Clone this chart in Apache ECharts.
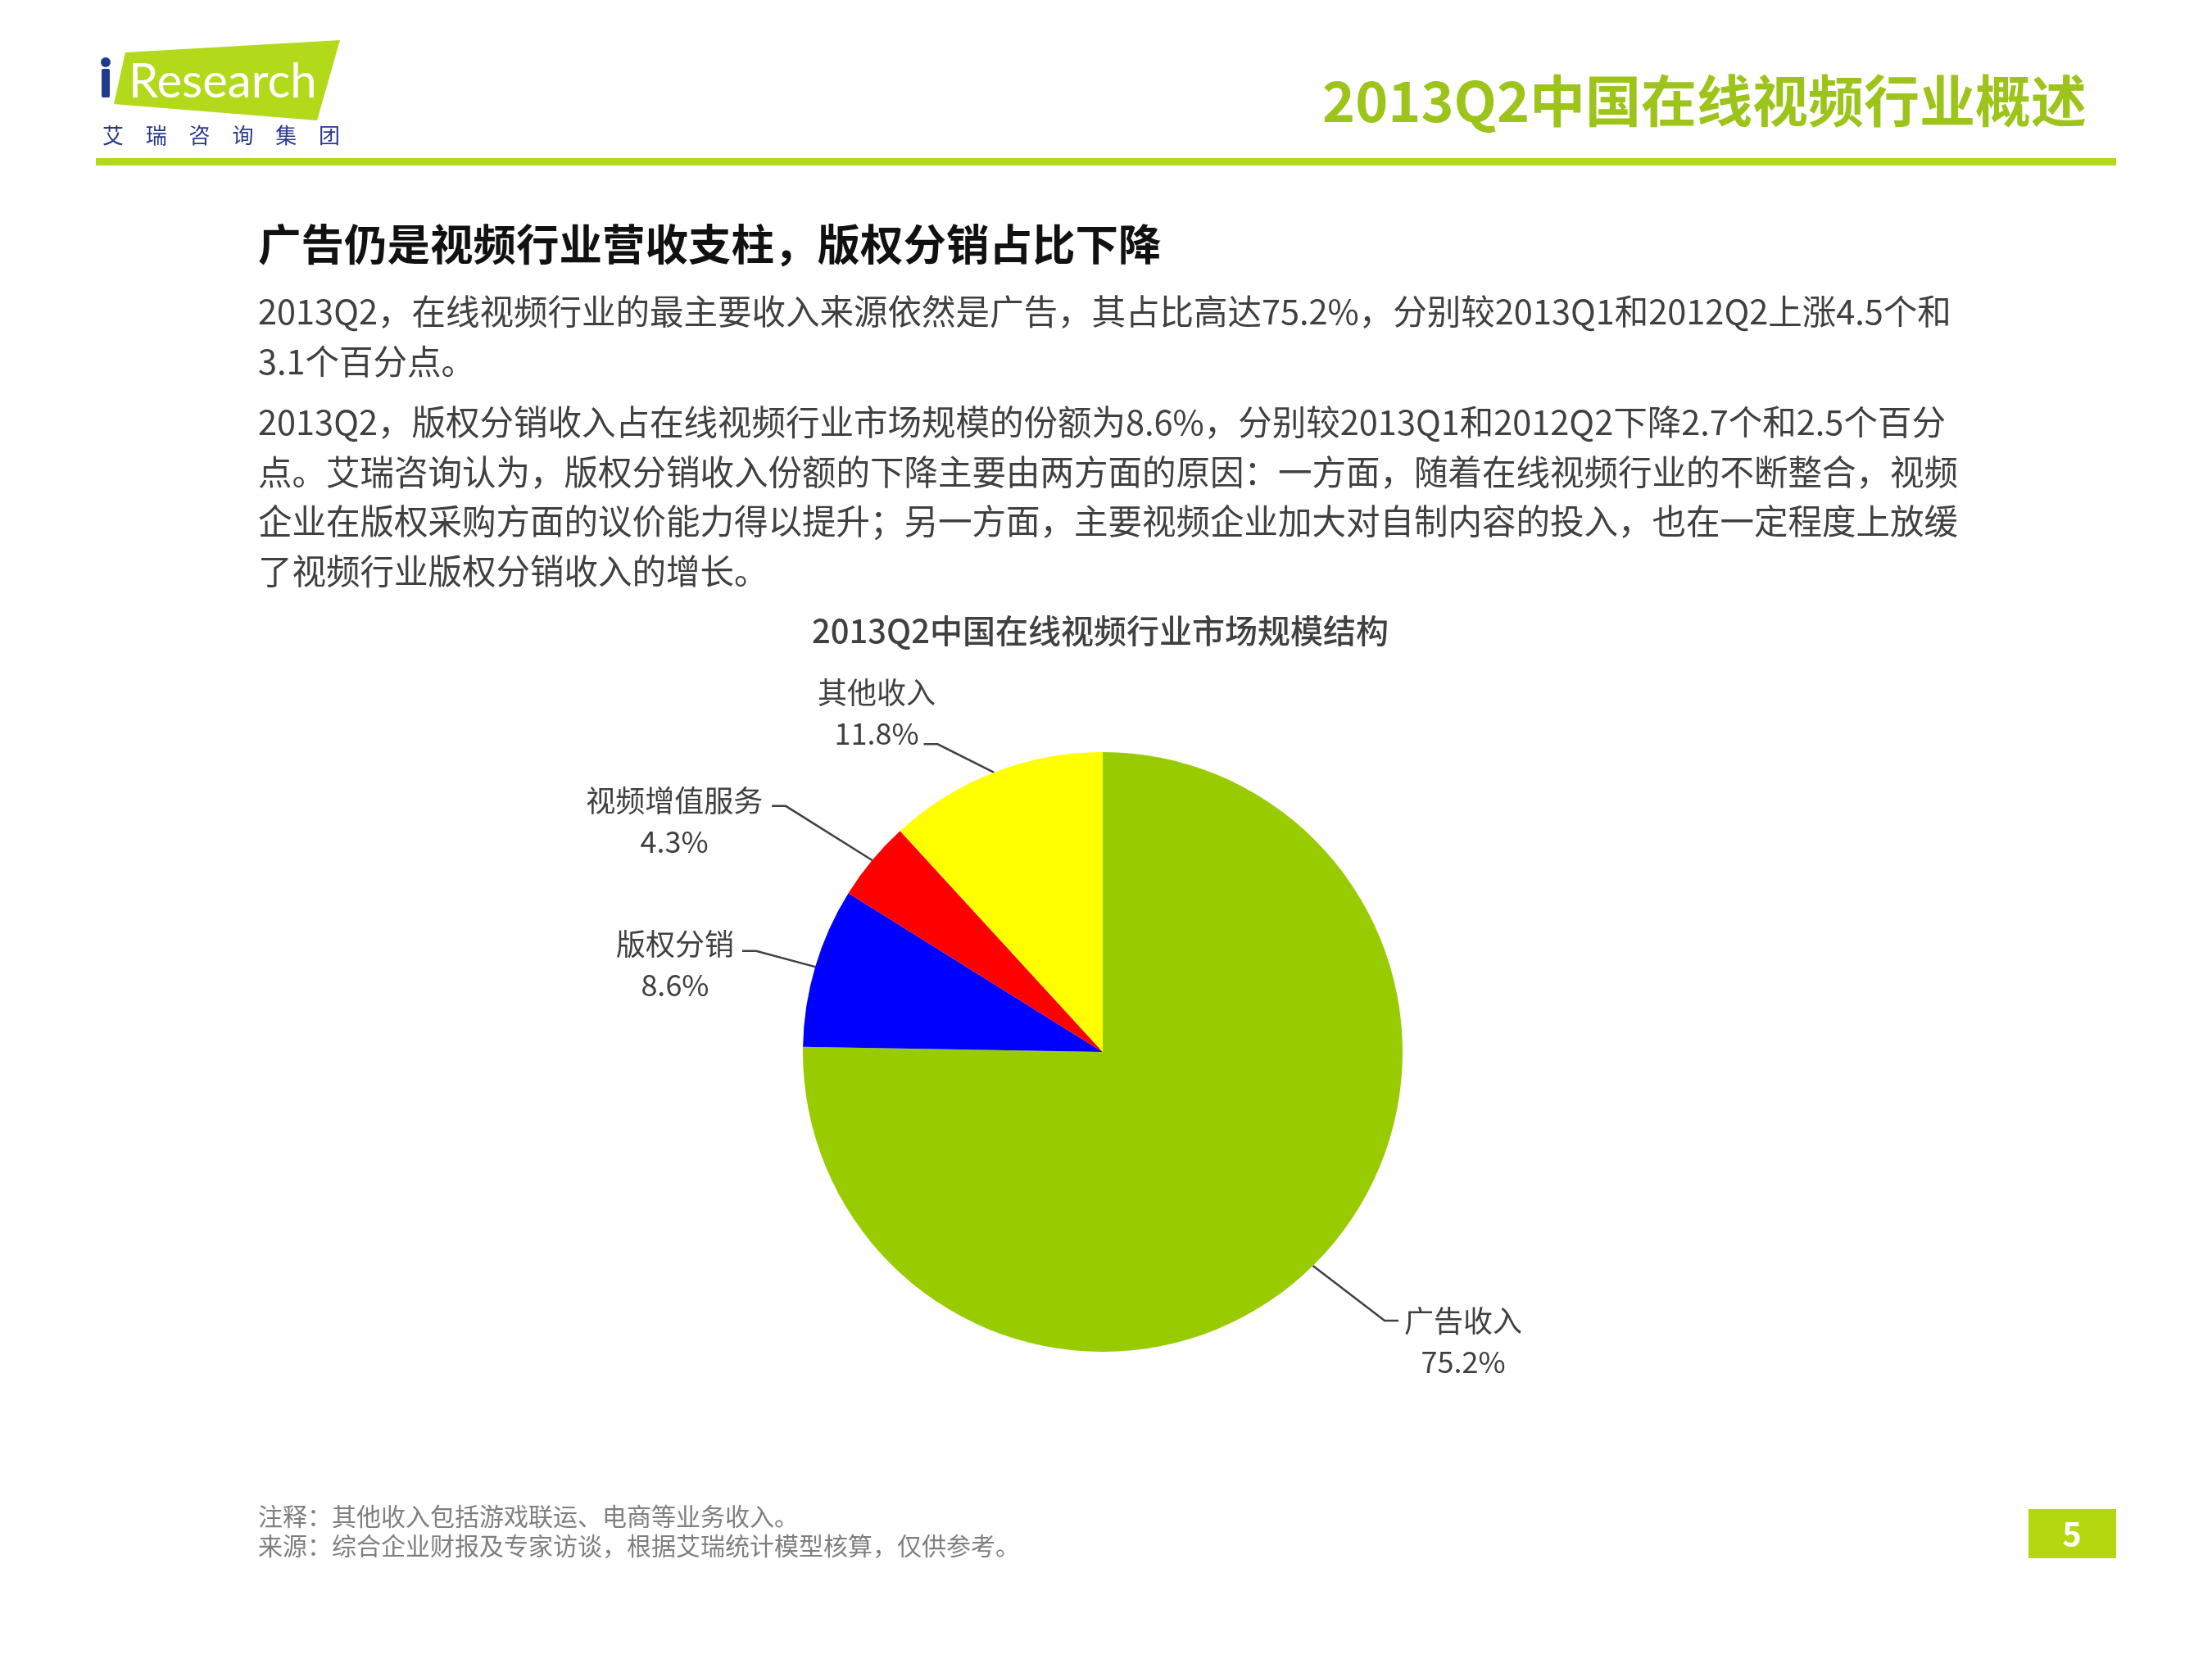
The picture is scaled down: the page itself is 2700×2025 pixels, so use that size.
<!DOCTYPE html>
<html>
<head>
<meta charset="utf-8">
<script src="https://cdn.jsdelivr.net/npm/echarts@6/dist/echarts.min.js"></script>
<style>
  html, body { margin: 0; padding: 0; background: #fff; }
  #chart { width: 2700px; height: 2025px; }
</style>
</head>
<body>
<div id="chart"></div>
<script>
// slice data, clockwise from 12 o'clock
const sliceNames = ['广告收入', '版权分销', '视频增值服务', '其他收入'];
const sliceShares = [75.2, 8.6, 4.3, 11.8];

const pageTitle = '2013Q2中国在线视频行业概述';
const chartTitle = '2013Q2中国在线视频行业市场规模结构';
const headline = '广告仍是视频行业营收支柱，版权分销占比下降';
const bodyLines = [
    '2013Q2，在线视频行业的最主要收入来源依然是广告，其占比高达75.2%，分别较2013Q1和2012Q2上涨4.5个和',
    '3.1个百分点。',
    '2013Q2，版权分销收入占在线视频行业市场规模的份额为8.6%，分别较2013Q1和2012Q2下降2.7个和2.5个百分',
    '点。艾瑞咨询认为，版权分销收入份额的下降主要由两方面的原因：一方面，随着在线视频行业的不断整合，视频',
    '企业在版权采购方面的议价能力得以提升；另一方面，主要视频企业加大对自制内容的投入，也在一定程度上放缓',
    '了视频行业版权分销收入的增长。'
];
const footNotes = [
    '注释：其他收入包括游戏联运、电商等业务收入。',
    '来源：综合企业财报及专家访谈，根据艾瑞统计模型核算，仅供参考。'
];
const logoChars = ['艾', '瑞', '咨', '询', '集', '团'];
const pageNo = '5';

// styling
const FONT = '"Noto Sans CJK SC", "Noto Sans", sans-serif';
const sliceColors = ['#99cc00', '#0000ff', '#ff0000', '#ffff00'];
const leaderLen = [[93.8, 38.8], [68.3, 23.6], [103.6, 42.7], [37.1, 72.3]];
const labelShift = [[79, 25], [-82, 17], [-119, 18.5], [-57.5, -38]];
const bodyY = [380, 441, 515, 576, 636, 697];

const chart = echarts.init(document.getElementById('chart'));

const graphic = [
    // logo
    {
        type: 'polygon',
        shape: { points: [[153, 64], [415, 49], [387, 147], [139, 127]] },
        style: { fill: '#b2d91a' }
    },
    { type: 'circle', shape: { cx: 129, cy: 76, r: 6 }, style: { fill: '#1f3c8c' } },
    { type: 'rect', shape: { x: 124, y: 84, width: 10, height: 35, r: 2 }, style: { fill: '#1f3c8c' } },
    {
        type: 'text', x: 157, y: 100,
        style: { text: 'Research', fontSize: 58, fontFamily: 'Lato, "DejaVu Sans", sans-serif', fill: '#fff', verticalAlign: 'middle' }
    },
    // header title and rule
    {
        type: 'text', x: 2547, y: 123,
        style: { text: pageTitle, fontSize: 68, fontWeight: 'bold', fontFamily: FONT, fill: '#9cc41a', align: 'right', verticalAlign: 'middle' }
    },
    { type: 'rect', shape: { x: 117, y: 193, width: 2466, height: 9 }, style: { fill: '#b1d916' } },
    // headline
    {
        type: 'text', x: 315, y: 298,
        style: { text: headline, fontSize: 52.5, fontWeight: 'bold', fontFamily: FONT, fill: '#111', verticalAlign: 'middle' }
    },
    // page number
    { type: 'rect', shape: { x: 2476, y: 1842, width: 107, height: 60 }, style: { fill: '#b3d80f' } },
    {
        type: 'text', x: 2529, y: 1872,
        style: { text: pageNo, fontSize: 40, fontWeight: 'bold', fontFamily: FONT, fill: '#fff', align: 'center', verticalAlign: 'middle' }
    }
];

logoChars.forEach((ch, i) => {
    graphic.push({
        type: 'text', x: 138 + i * 52.8, y: 165,
        style: { text: ch, fontSize: 26, fontFamily: FONT, fill: '#2a3a8c', align: 'center', verticalAlign: 'middle' }
    });
});

bodyLines.forEach((line, i) => {
    graphic.push({
        type: 'text', x: 315, y: bodyY[i],
        style: { text: line, fontSize: 41.5, fontFamily: FONT, fill: '#404040', verticalAlign: 'middle' }
    });
});

footNotes.forEach((line, i) => {
    graphic.push({
        type: 'text', x: 315, y: 1851 + i * 36,
        style: { text: line, fontSize: 30, fontFamily: FONT, fill: '#7f7f7f', verticalAlign: 'middle' }
    });
});

chart.setOption({
    animation: false,
    backgroundColor: '#fff',
    title: {
        text: chartTitle,
        left: 1343,
        textAlign: 'center',
        top: 750,
        padding: 0,
        textStyle: { fontSize: 40, fontWeight: 500, fontFamily: FONT, color: '#404040' }
    },
    graphic: graphic,
    series: [
        {
            type: 'pie',
            center: [1346, 1284],
            radius: 366,
            startAngle: 90,
            clockwise: true,
            avoidLabelOverlap: false,
            emphasis: { disabled: true },
            itemStyle: { borderWidth: 0 },
            label: {
                formatter: '{b}\n{c}%',
                fontSize: 36,
                lineHeight: 50,
                fontFamily: FONT,
                color: '#404040'
            },
            labelLine: {
                lineStyle: { color: '#404040', width: 2.5 }
            },
            // put the text block beside the leader end, elbow close to the text
            labelLayout: function (p) {
                const pts = p.labelLinePoints;
                if (!pts) return {};
                const end = pts[2];
                const side = end[0] < pts[0][0] ? -1 : 1;
                const s = labelShift[p.dataIndex];
                return {
                    x: end[0] + s[0],
                    y: end[1] + s[1],
                    align: 'center',
                    verticalAlign: 'middle',
                    labelLinePoints: [pts[0], [end[0] - side * 17, end[1]], end]
                };
            },
            data: sliceNames.map((name, i) => ({
                name: name,
                value: sliceShares[i],
                itemStyle: { color: sliceColors[i] },
                labelLine: { length: leaderLen[i][0], length2: leaderLen[i][1] }
            }))
        }
    ]
});
</script>
</body>
</html>
